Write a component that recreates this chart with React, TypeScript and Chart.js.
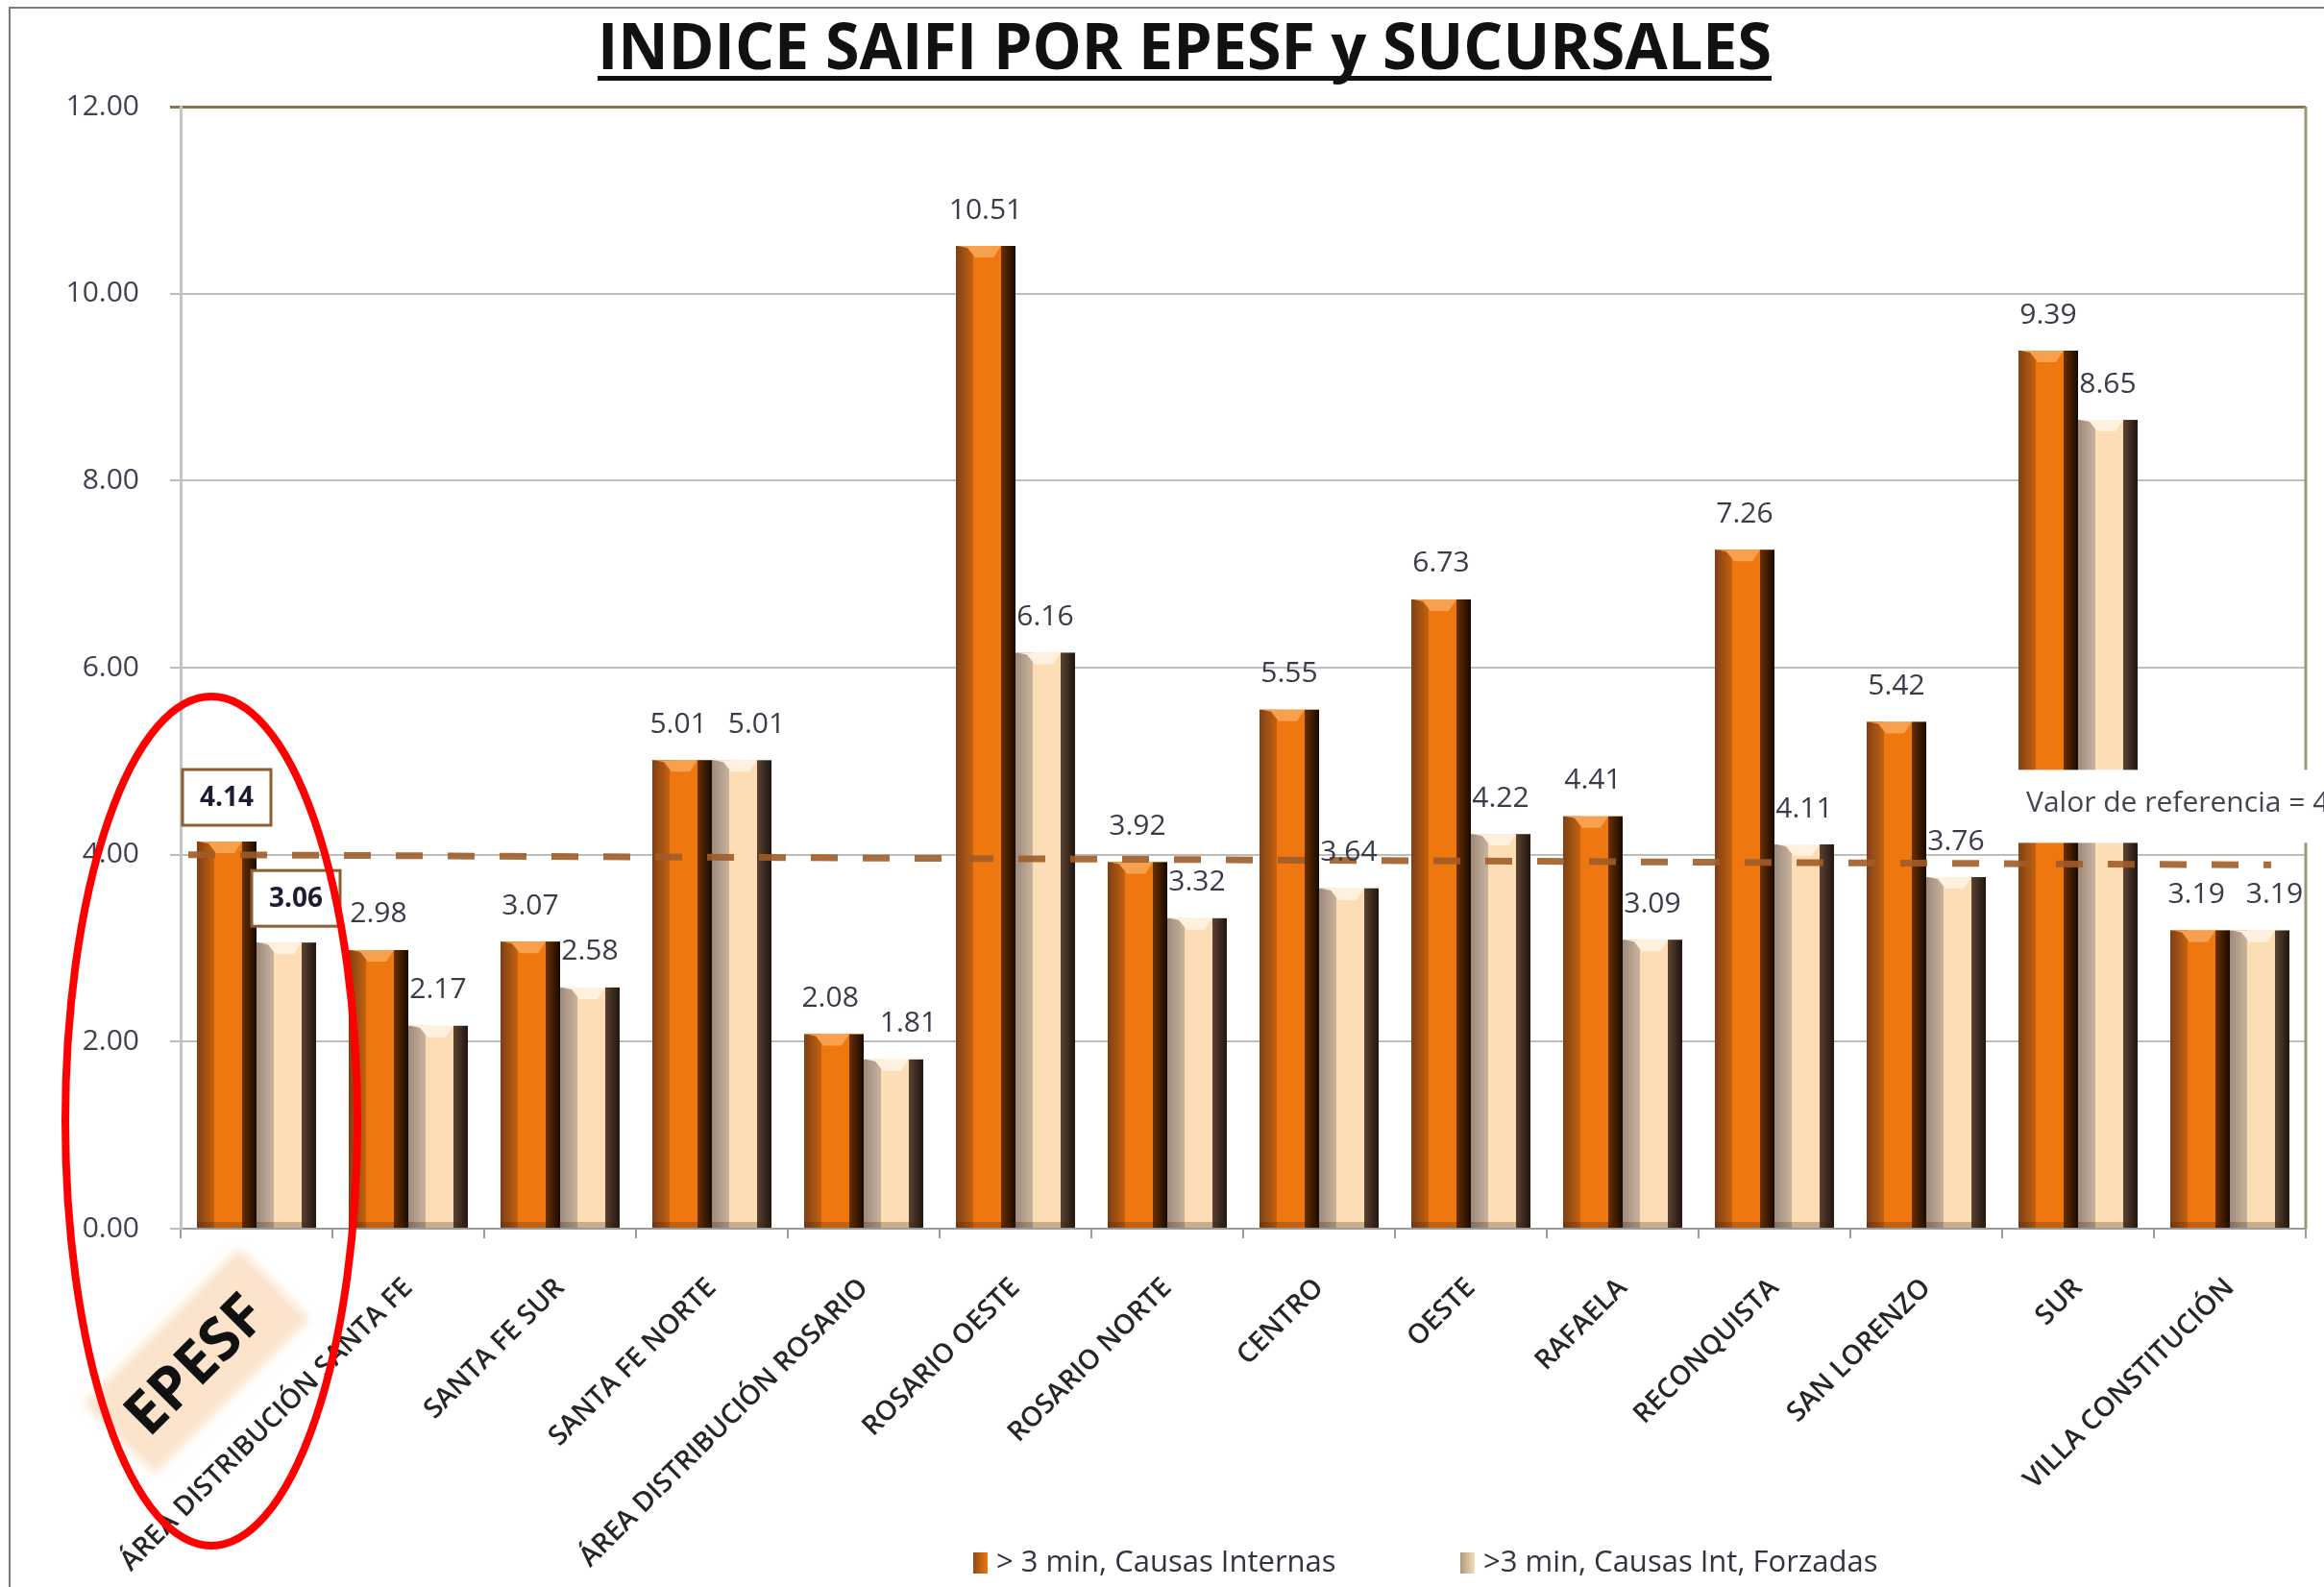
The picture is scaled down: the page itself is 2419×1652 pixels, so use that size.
import React, { useEffect, useRef } from 'react';
import { Chart, registerables } from 'chart.js';

Chart.register(...registerables);

// ---------- data ----------
const TITLE = 'INDICE SAIFI POR EPESF y SUCURSALES';
const CATEGORIES = [
  'EPESF',
  'ÁREA DISTRIBUCIÓN SANTA FE',
  'SANTA FE SUR',
  'SANTA FE NORTE',
  'ÁREA DISTRIBUCIÓN ROSARIO',
  'ROSARIO OESTE',
  'ROSARIO NORTE',
  'CENTRO',
  'OESTE',
  'RAFAELA',
  'RECONQUISTA',
  'SAN LORENZO',
  'SUR',
  'VILLA CONSTITUCIÓN',
];
const SERIES_INTERNAS = [4.14, 2.98, 3.07, 5.01, 2.08, 10.51, 3.92, 5.55, 6.73, 4.41, 7.26, 5.42, 9.39, 3.19];
const SERIES_FORZADAS = [3.06, 2.17, 2.58, 5.01, 1.81, 6.16, 3.32, 3.64, 4.22, 3.09, 4.11, 3.76, 8.65, 3.19];
const SERIES_LABELS = ['> 3 min, Causas Internas', '>3 min, Causas Int, Forzadas'];
const Y_TICKS = [0, 2, 4, 6, 8, 10, 12];
const REF_LINE_ENDS = [4.0, 3.89];
const REF_LABEL = 'Valor de referencia = 4';
const HIGHLIGHT_INDEX = 0;

// ---------- styles ----------
const W = 2419;
const H = 1652;
const FONT = '"Open Sans", "DejaVu Sans", sans-serif';
const LEGEND_X = [1013, 1520];
const PAL = [
  { face: '#EE7710', left0: '#7E4018', left1: '#C4620F', leftW: 18, right0: '#6A3000', right1: '#180900', rightW: 15, top: '#F7A04E', legend0: '#8E4A1C', legend1: '#EE7710' },
  { face: '#FCDDB6', left0: '#9C8A7C', left1: '#C9B39C', leftW: 18, right0: '#5A4232', right1: '#22160F', rightW: 15, top: '#FFF1DE', legend0: '#A89880', legend1: '#FCDDB6' },
];

const overlayPlugin = {
  id: 'overlay',
  beforeDatasetsDraw(chart: any) {
    const { ctx, chartArea } = chart;
    ctx.save();
    ctx.strokeStyle = '#A0957A';
    ctx.lineWidth = 3;
    ctx.beginPath();
    ctx.moveTo(chartArea.right, chartArea.top);
    ctx.lineTo(chartArea.right, chartArea.bottom);
    ctx.stroke();
    ctx.restore();
  },
  afterDatasetsDraw(chart: any) {
    const { ctx, chartArea } = chart;
    const yScale = chart.scales.y;
    ctx.save();
    // 3D bevel shading of bars
    chart.data.datasets.forEach((ds: any, di: number) => {
      const meta = chart.getDatasetMeta(di);
      const p = PAL[di];
      meta.data.forEach((bar: any) => {
        const { x, y, base, width } = bar.getProps(['x', 'y', 'base', 'width'], true);
        const l = x - width / 2;
        const r = x + width / 2;
        const t = y;
        const b = base;
        let g = ctx.createLinearGradient(l, 0, l + p.leftW, 0);
        g.addColorStop(0, p.left0);
        g.addColorStop(1, p.left1);
        ctx.fillStyle = g;
        ctx.fillRect(l, t, p.leftW, b - t);
        g = ctx.createLinearGradient(r - p.rightW, 0, r, 0);
        g.addColorStop(0, p.right0);
        g.addColorStop(1, p.right1);
        ctx.fillStyle = g;
        ctx.fillRect(r - p.rightW, t, p.rightW, b - t);
        // top bevel
        ctx.beginPath();
        ctx.moveTo(l + 2, t);
        ctx.lineTo(r - p.rightW, t);
        ctx.lineTo(r - p.rightW - 8, t + 12);
        ctx.lineTo(l + p.leftW + 2, t + 12);
        ctx.lineTo(l + p.leftW - 6, t + 2);
        ctx.closePath();
        ctx.fillStyle = p.top;
        ctx.fill();
        // bottom bevel
        ctx.fillStyle = 'rgba(60,30,10,0.25)';
        ctx.fillRect(l, b - 6, width, 6);
      });
    });

    // reference line (dashed)
    const y0 = yScale.getPixelForValue(REF_LINE_ENDS[0]);
    const y1 = yScale.getPixelForValue(REF_LINE_ENDS[1]);
    ctx.strokeStyle = 'rgba(160,92,40,0.9)';
    ctx.lineWidth = 7;
    ctx.setLineDash([28, 26]);
    ctx.beginPath();
    ctx.moveTo(chartArea.left + 8, y0);
    ctx.lineTo(chartArea.right - 36, y1);
    ctx.stroke();
    ctx.setLineDash([]);

    // value labels (with simple overlap avoidance between the two series)
    ctx.textAlign = 'center';
    ctx.textBaseline = 'middle';
    const metaA = chart.getDatasetMeta(0);
    const metaB = chart.getDatasetMeta(1);
    const dsA = chart.data.datasets[0];
    const dsB = chart.data.datasets[1];
    ctx.font = `30px ${FONT}`;
    for (let i = 0; i < metaA.data.length; i++) {
      const a = metaA.data[i];
      const b = metaB.data[i];
      const ta = dsA.data[i].toFixed(2);
      const tb = dsB.data[i].toFixed(2);
      if (i === HIGHLIGHT_INDEX) {
        [[a, ta, 0], [b, tb, 10]].forEach(([bar, txt, dx]: any) => {
          const bx = bar.x + dx;
          const by = bar.y - 46;
          ctx.fillStyle = '#ffffff';
          ctx.fillRect(bx - 46, by - 29, 92, 58);
          ctx.strokeStyle = '#8B5E34';
          ctx.lineWidth = 3;
          ctx.strokeRect(bx - 46, by - 29, 92, 58);
          ctx.fillStyle = '#1c1c34';
          ctx.font = `bold 28px ${FONT}`;
          ctx.fillText(txt, bx, by + 1);
        });
        ctx.font = `30px ${FONT}`;
        continue;
      }
      const ya = a.y - 37;
      const yb = b.y - 37;
      const wa = ctx.measureText(ta).width;
      const wb = ctx.measureText(tb).width;
      let xa = a.x;
      let xb = b.x;
      if (Math.abs(ya - yb) < 34) {
        const gap = xb - wb / 2 - (xa + wa / 2);
        const need = 22 - gap;
        if (need > 0) {
          xa -= need * 0.2;
          xb += need * 0.8;
        }
      }
      ctx.fillStyle = '#3a3a48';
      ctx.fillText(ta, xa, ya);
      ctx.fillText(tb, xb, yb);
    }
    ctx.restore();
  },
  afterDraw(chart: any) {
    const { ctx, chartArea } = chart;
    const xScale = chart.scales.x;
    const yScale = chart.scales.y;
    ctx.save();

    // reference label with white box
    const yRef = yScale.getPixelForValue(REF_LINE_ENDS[1]);
    ctx.fillStyle = '#ffffff';
    ctx.fillRect(chartArea.right - 308, yRef - 99, 340, 76);
    ctx.fillStyle = '#444450';
    ctx.font = `30px ${FONT}`;
    ctx.textAlign = 'left';
    ctx.textBaseline = 'middle';
    ctx.fillText(REF_LABEL, chartArea.right - 291, yRef - 64);

    // title
    ctx.font = `bold 66px ${FONT}`;
    const tw = ctx.measureText(TITLE).width;
    const targetW = 1222;
    const cx = 1233;
    ctx.save();
    ctx.translate(cx, 72);
    ctx.scale(targetW / tw, 1);
    ctx.fillStyle = '#111111';
    ctx.textAlign = 'center';
    ctx.textBaseline = 'alphabetic';
    ctx.fillText(TITLE, 0, 0);
    ctx.restore();
    ctx.fillStyle = '#111111';
    ctx.fillRect(cx - targetW / 2, 79, targetW, 5);

    // frame
    ctx.strokeStyle = '#7a7a7a';
    ctx.lineWidth = 2;
    ctx.beginPath();
    ctx.moveTo(10, H);
    ctx.lineTo(10, 8);
    ctx.lineTo(W, 8);
    ctx.stroke();

    // legend
    ctx.font = `31px ${FONT}`;
    ctx.textBaseline = 'middle';
    ctx.textAlign = 'left';
    const ly = 1627;
    chart.data.datasets.forEach((ds: any, di: number) => {
      const p = PAL[di];
      const lx = LEGEND_X[di];
      const g = ctx.createLinearGradient(lx, 0, lx + 15, 0);
      g.addColorStop(0, p.legend0);
      g.addColorStop(1, p.legend1);
      ctx.fillStyle = g;
      ctx.fillRect(lx, ly - 11, 15, 22);
      ctx.fillStyle = '#333340';
      ctx.fillText(ds.label, lx + 24, ly);
    });

    // EPESF highlight label
    const x0 = xScale.getPixelForValue(HIGHLIGHT_INDEX);
    ctx.save();
    ctx.translate(x0 - 62, chartArea.bottom + 138);
    ctx.rotate(-Math.PI / 4);
    ctx.filter = 'blur(5px)';
    ctx.fillStyle = '#FBE3CC';
    ctx.fillRect(-114, -52, 228, 104);
    ctx.filter = 'none';
    ctx.fillStyle = '#111111';
    ctx.font = `bold 62px ${FONT}`;
    ctx.textAlign = 'center';
    ctx.textBaseline = 'middle';
    ctx.fillText(CATEGORIES[HIGHLIGHT_INDEX], -4, 4);
    ctx.restore();

    // red ellipse
    ctx.strokeStyle = '#FF0000';
    ctx.lineWidth = 8;
    ctx.beginPath();
    ctx.ellipse(x0 - 47, chartArea.bottom - 112, 152, 442, 0, 0, Math.PI * 2);
    ctx.stroke();

    ctx.restore();
  },
};

export default function App() {
  const ref = useRef<HTMLCanvasElement | null>(null);
  useEffect(() => {
    document.body.style.margin = '0';
    document.body.style.overflow = 'hidden';
    const canvas = ref.current;
    if (!canvas) return;
    const chart = new Chart(canvas, {
      type: 'bar',
      data: {
        labels: CATEGORIES,
        datasets: [
          {
            label: SERIES_LABELS[0],
            data: SERIES_INTERNAS,
            backgroundColor: PAL[0].face,
            borderWidth: 0,
            categoryPercentage: 0.785,
            barPercentage: 1.0,
          },
          {
            label: SERIES_LABELS[1],
            data: SERIES_FORZADAS,
            backgroundColor: PAL[1].face,
            borderWidth: 0,
            categoryPercentage: 0.785,
            barPercentage: 1.0,
          },
        ],
      },
      options: {
        responsive: false,
        maintainAspectRatio: false,
        devicePixelRatio: 1,
        animation: false,
        layout: { padding: { top: 111, right: 19, bottom: 0, left: 0 } },
        plugins: {
          legend: { display: false },
          title: { display: false },
          tooltip: { enabled: false },
        },
        scales: {
          x: {
            afterFit: (s: any) => {
              s.height = 373;
            },
            grid: {
              display: true,
              drawOnChartArea: false,
              drawTicks: true,
              tickLength: 10,
              color: '#9a9a9a',
              lineWidth: 2,
              offset: true,
            },
            border: { display: true, color: '#9a9a9a', width: 2 },
            ticks: {
              autoSkip: false,
              minRotation: 45,
              maxRotation: 45,
              padding: 35,
              color: '#262626',
              font: { family: FONT, size: 28.5, weight: '600' },
              callback: (_v: any, i: number) => (i === HIGHLIGHT_INDEX ? '' : CATEGORIES[i]),
            },
          },
          y: {
            min: 0,
            max: 12,
            afterFit: (s: any) => {
              s.width = 188;
            },
            afterBuildTicks: (s: any) => {
              s.ticks = Y_TICKS.map((v) => ({ value: v }));
            },
            grid: {
              color: (c: any) => (c.tick && c.tick.value === 12 ? '#86784a' : '#bdbdbd'),
              lineWidth: (c: any) => (c.tick && c.tick.value === 12 ? 3 : 2),
              tickLength: 11,
              drawTicks: true,
            },
            border: { display: true, color: '#c4c4c4', width: 3 },
            ticks: {
              padding: 32,
              color: '#404050',
              font: { family: FONT, size: 30 },
              callback: (v: any) => Number(v).toFixed(2),
            },
          },
        },
      },
      plugins: [overlayPlugin],
    });
    return () => chart.destroy();
  }, []);

  return (
    <div style={{ width: W, height: H, position: 'relative', background: '#ffffff' }}>
      <canvas ref={ref} width={W} height={H} style={{ display: 'block', width: W, height: H }} />
    </div>
  );
}
